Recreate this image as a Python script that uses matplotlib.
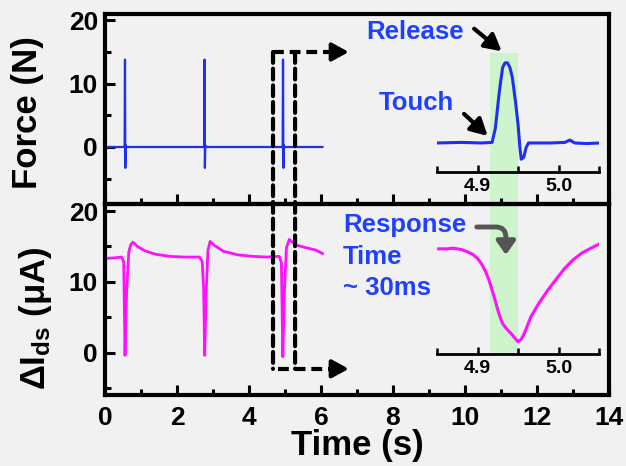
"""Force / drain-current response with zoomed insets."""

import matplotlib
matplotlib.use("Agg")
import matplotlib.pyplot as plt
from matplotlib.patches import Rectangle, ConnectionPatch
from matplotlib.transforms import blended_transform_factory
from matplotlib.ticker import MultipleLocator

plt.rcParams["font.family"] = ["Liberation Sans", "DejaVu Sans"]
plt.rcParams["font.weight"] = "bold"
plt.rcParams["mathtext.fontset"] = "custom"
plt.rcParams["mathtext.rm"] = "Liberation Sans:bold"
plt.rcParams["mathtext.bf"] = "Liberation Sans:bold"
plt.rcParams["mathtext.it"] = "Liberation Sans:bold"

# ---- main force trace (N) ----
force_t = [0.0, 0.53, 0.545, 0.555, 0.565, 0.575, 0.59, 2.74, 2.755, 2.765,
           2.775, 2.785, 2.80, 4.92, 4.935, 4.945, 4.955, 4.965, 4.98, 6.04]
force_v = [0.0, 0.0, 0.3, 13.8, -3.3, 0.3, 0.0, 0.0, 0.3, 13.8,
           -3.3, 0.3, 0.0, 0.0, 0.3, 13.8, -3.3, 0.3, 0.0, 0.0]

# ---- main current trace (uA) ----
cur_t = [0.0, 0.30, 0.46, 0.52, 0.556, 0.60, 0.66, 0.72, 0.78, 0.90, 1.10,
         1.40, 1.80, 2.20, 2.62, 2.70, 2.74, 2.77, 2.81, 2.86, 2.92, 3.05,
         3.30, 3.70, 4.10, 4.50, 4.84, 4.90, 4.94, 4.985, 5.04, 5.12, 5.30,
         5.60, 5.85, 6.04]
cur_v = [13.3, 13.4, 13.5, 12.8, -0.4, 8.5, 14.2, 15.3, 15.6, 15.0, 14.4,
         13.9, 13.6, 13.5, 13.5, 12.9, 9.0, -0.4, 8.5, 14.5, 15.7, 15.1,
         14.3, 13.8, 13.6, 13.5, 13.6, 12.7, -0.6, 9.0, 14.8, 16.0, 15.2,
         14.8, 14.5, 14.0]

# ---- inset: force zoom ----
ins_f_t = [4.850, 4.880, 4.905, 4.918, 4.922, 4.927, 4.931, 4.934, 4.937,
           4.940, 4.943, 4.947, 4.950, 4.9525, 4.954, 4.957, 4.960, 4.963,
           4.990, 5.008, 5.014, 5.020, 5.035, 5.051]
ins_f_v = [0.0, 0.1, 0.0, 0.1, 2.5, 8.9, 13.0, 13.8, 13.8, 13.0, 11.3,
           7.0, 3.3, -1.0, -2.8, -2.5, -0.8, 0.0, 0.0, 0.1, 0.5, 0.0,
           -0.1, 0.0]

# ---- inset: current zoom ----
ins_c_t = [4.852, 4.862, 4.870, 4.880, 4.887, 4.894, 4.900, 4.905, 4.910,
           4.914, 4.918, 4.922, 4.925, 4.928, 4.931, 4.936, 4.941, 4.946,
           4.950, 4.954, 4.958, 4.962, 4.966, 4.976, 4.987, 4.998, 5.008,
           5.018, 5.029, 5.040, 5.052]
ins_c_v = [13.8, 13.8, 13.9, 13.7, 13.4, 13.0, 12.4, 11.6, 10.5, 9.3, 7.8,
           6.2, 4.9, 3.8, 2.9, 2.1, 1.5, 0.8, 0.25, 0.6, 1.5, 2.7, 3.9,
           5.9, 7.8, 9.5, 11.0, 12.2, 13.2, 13.9, 14.6]

response_window = (4.916, 4.950)

BLUE = "#1f2ef0"
MAGENTA = "#ff10ff"
TXT_BLUE = "#1f40ff"
W, H = 626, 466


def fx(px):
    return px / W


def fy(py):
    return 1 - py / H


fig = plt.figure(figsize=(6.26, 4.66), dpi=100, facecolor="#f1f1f1")

left, right = fx(105), fx(609)
top, mid, bot = fy(14), fy(204), fy(395)
ax1 = fig.add_axes([left, mid, right - left, top - mid])
ax2 = fig.add_axes([left, bot, right - left, mid - bot], sharex=ax1)

ax1.plot(force_t, force_v, color=BLUE, lw=1.6)
ax2.plot(cur_t, cur_v, color=MAGENTA, lw=2.0)

ax1.set_xlim(0, 14)
ax1.set_ylim(-9, 21)
ax2.set_ylim(-6, 21)

for ax in (ax1, ax2):
    ax.set_facecolor("none")
    for s in ax.spines.values():
        s.set_linewidth(3.0)
    ax.xaxis.set_major_locator(MultipleLocator(2))
    ax.xaxis.set_minor_locator(MultipleLocator(1))
    ax.yaxis.set_major_locator(MultipleLocator(10))
    ax.yaxis.set_minor_locator(MultipleLocator(5))
    ax.tick_params(which="both", direction="in", width=2.2, top=False, right=False)
    ax.tick_params(which="major", length=7, labelsize=19, pad=5)
    ax.tick_params(which="minor", length=4.5)
ax1.tick_params(labelbottom=False)
ax2.tick_params(axis="x", which="major", pad=8)
ax1.set_yticks([0, 10, 20])
ax2.set_yticks([0, 10, 20])

fig.text(fx(28), fy(113), "Force (N)", rotation=90, ha="center", va="center",
         fontsize=25, fontweight="bold")
fig.text(fx(36), fy(318), r"$\Delta$I$_{\mathbf{ds}}$ ($\mu$A)", rotation=90,
         ha="center", va="center", fontsize=25, fontweight="bold")
fig.text(fx(357), fy(445), "Time (s)", ha="center", va="center",
         fontsize=25, fontweight="bold")

# ---- insets ----
in_l, in_r = fx(437), fx(599)
ax_f = fig.add_axes([in_l, fy(172), in_r - in_l, fy(53) - fy(172)])
ax_c = fig.add_axes([in_l, fy(354), in_r - in_l, fy(205) - fy(354)])

ax_f.plot(ins_f_t, ins_f_v, color=BLUE, lw=2.2)
ax_c.plot(ins_c_t, ins_c_v, color=MAGENTA, lw=2.2)
ax_f.set_ylim(-5.0, 15.5)
ax_c.set_ylim(-1.55, 20.2)

for ax in (ax_f, ax_c):
    ax.set_facecolor("none")
    ax.set_xlim(4.85, 5.05)
    for k in ("top", "left", "right"):
        ax.spines[k].set_visible(False)
    ax.spines["bottom"].set_linewidth(2.0)
    ax.set_yticks([])
    ax.set_xticks([4.9, 5.0])
    ax.set_xticklabels(["4.9", "5.0"])
    ax.xaxis.set_minor_locator(MultipleLocator(0.05))
    ax.tick_params(axis="x", which="both", direction="in", width=1.8)
    ax.tick_params(axis="x", which="major", length=5, labelsize=14, pad=4)
    ax.tick_params(axis="x", which="minor", length=4)

# green band for the response time, through both insets
band_tr = blended_transform_factory(ax_f.transData, fig.transFigure)
band = Rectangle((response_window[0], fy(354)),
                 response_window[1] - response_window[0], fy(53) - fy(354),
                 transform=band_tr, facecolor="#c9f5c9", edgecolor="none",
                 alpha=0.9, zorder=-1)
fig.add_artist(band)

# ---- dashed zoom markers ----
dash = dict(color="black", lw=3.0, linestyle=(0, (2.6, 1.4)), zorder=5)
for xv in (4.667, 5.28):
    con = ConnectionPatch((xv, 15.0), (xv, -2.3), coordsA=ax1.transData,
                          coordsB=ax2.transData, **dash)
    fig.add_artist(con)
ax1.plot([4.667, 6.45], [15.0, 15.0], clip_on=False, **dash)
ax2.plot([4.81, 6.45], [-2.3, -2.3], clip_on=False, **dash)
arrow_kw = dict(arrowstyle="-|>,head_length=0.55,head_width=0.3", color="black",
                lw=3.0, mutation_scale=18)
ax1.annotate("", xy=(6.85, 15.0), xytext=(6.35, 15.0), arrowprops=arrow_kw,
             annotation_clip=False)
ax2.annotate("", xy=(6.85, -2.3), xytext=(6.35, -2.3), arrowprops=arrow_kw,
             annotation_clip=False)

# ---- annotations ----
note = dict(color=TXT_BLUE, fontsize=18.5, fontweight="bold", ha="left",
            va="center")
fig.text(fx(366), fy(32), "Release", **note)
fig.text(fx(379), fy(103), "Touch", **note)
fig.text(fx(343), fy(225), "Response", **note)
fig.text(fx(343), fy(257), "Time", **note)
fig.text(fx(343), fy(288), "~ 30ms", **note)

ax_f.annotate("", xy=(4.9325, 15.5), xytext=(472, H - 27),
              textcoords="figure pixels", arrowprops=arrow_kw,
              annotation_clip=False)
ax_f.annotate("", xy=(4.915, 0.9), xytext=(462, H - 112),
              textcoords="figure pixels", arrowprops=arrow_kw,
              annotation_clip=False)
ax_c.annotate("", xy=(4.935, 12.5), xytext=(474, H - 227),
              textcoords="figure pixels",
              arrowprops=dict(arrowstyle="-|>,head_length=0.5,head_width=0.35",
                              color="#555555", lw=3.5, mutation_scale=16,
                              connectionstyle="angle,angleA=0,angleB=90,rad=10"),
              annotation_clip=False)

fig.savefig("out.png", dpi=100, facecolor=fig.get_facecolor())
